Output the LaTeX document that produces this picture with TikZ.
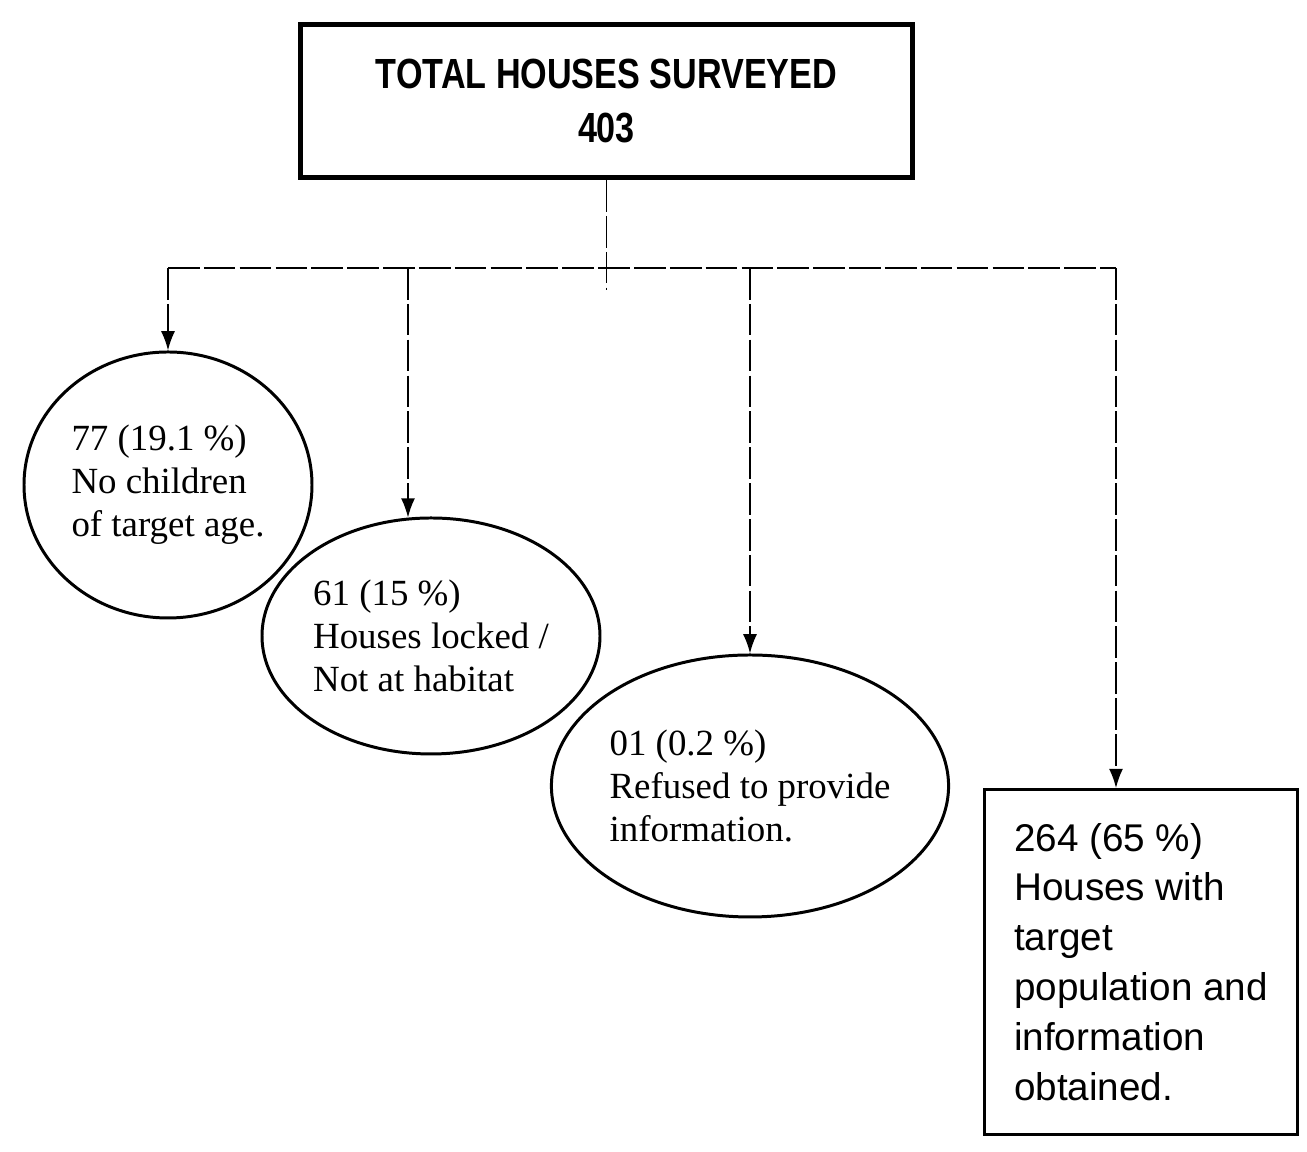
\documentclass[tikz,border=0pt]{standalone}
\usetikzlibrary{shapes, arrows.meta, positioning}
\usepackage{fontspec}
\setmainfont{Liberation Serif}
\newfontfamily\headfont[FakeStretch=0.81]{Liberation Sans}
\newfontfamily\boxfont{Liberation Sans}

\begin{document}
\begin{tikzpicture}[every node/.style={align=left, inner sep=0pt},
    ovalbox/.style={ellipse, draw, line width=.85pt, font=\fontsize{10.5}{12.2}\selectfont},
    dashline/.style={line width=.5pt, dash pattern=on 9pt off 1.2pt},
    dasharrow/.style={dashline, -{Latex[length=5.5pt, width=4pt]}}]
        \useasboundingbox (0, 0) rectangle (13.07, 11.52);
        \node[draw, line width=1.5pt, minimum width=6.12cm, minimum height=1.53cm, align=center,
              font=\headfont\bfseries\fontsize{12}{15.6}\selectfont] (total) at (6.065, 10.51) {TOTAL HOUSES SURVEYED\\403};
        \node[ovalbox, minimum width=2.88cm, minimum height=2.66cm] (none) at (1.68, 6.67) {77 (19.1 \%)\\No children\\of target age.};
        \node[ovalbox, minimum width=3.38cm, minimum height=2.36cm] (locked) at (4.31, 5.16) {61 (15 \%)\\Houses locked /\\Not at habitat};
        \node[ovalbox, minimum width=3.86cm, minimum height=2.62cm] (refused) at (7.50, 3.66) {01 (0.2 \%)\\Refused to provide\\information.};
        \node[draw, line width=.8pt, minimum width=3.13cm, minimum height=3.45cm,
              font=\boxfont\fontsize{11}{14.2}\selectfont] (obtained) at (11.41, 1.90)
              {264 (65 \%)\\Houses with\\target\\population and\\information\\obtained.};
        \coordinate (bus) at (6.065, 8.84);
        \coordinate (stub) at (6.065, 8.62);
        \draw[dashline] (total) -- (stub);
        \draw[dashline] (none.north |- bus) -- ([xshift=-.25cm]obtained.north |- bus);
        \draw[dasharrow] (none.north |- bus) -- (none.north);
        \draw[dasharrow] (locked.101 |- bus) -- (locked.101);
        \draw[dasharrow] (refused.north |- bus) -- (refused.north);
        \draw[dasharrow] ([xshift=-.25cm]obtained.north |- bus) -- ([xshift=-.25cm]obtained.north);
      \end{tikzpicture}
\end{document}
